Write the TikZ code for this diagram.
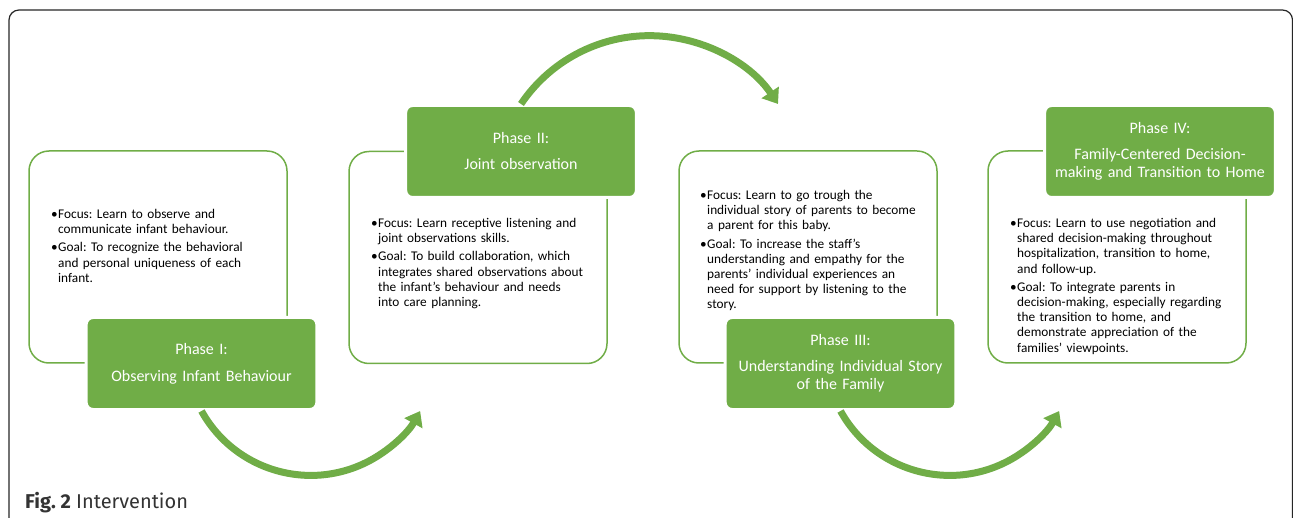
\documentclass[tikz,border=0pt]{standalone}
\usepackage{fontspec}
\setmainfont{Carlito}
\newfontfamily\capfont{Fira Sans}
\usetikzlibrary{arrows.meta}
\frenchspacing

\definecolor{phasegreen}{HTML}{70AD47}
\definecolor{capgray}{HTML}{333333}

% one bullet point with a hanging indent
\newcommand{\bul}[1]{\hangindent=7pt\hangafter=1\noindent\makebox[7pt][l]{\textbullet}#1\par}

\tikzset{
  outline/.style={draw=phasegreen, line width=1.5pt, rounded corners=20pt,
    minimum width=258pt, minimum height=212pt},
  phasebox/.style={fill=phasegreen, draw=white, line width=3pt, rounded corners=7pt,
    minimum width=230pt, minimum height=92pt, text width=224pt, align=center,
    text=white, font=\fontsize{16}{18}\selectfont},
  notes/.style={anchor=north west, inner sep=0pt, text width=250pt, align=left,
    font=\fontsize{13.3}{15.2}\selectfont},
  cycle arrow/.style={draw=phasegreen, line width=7pt,
    -{Triangle[width=20pt,length=14pt]}}
}

\begin{document}
\begin{tikzpicture}[x=1pt,y=1pt]
\useasboundingbox (0,0) rectangle (1293,-518);
\clip (0,0) rectangle (1293,-518);

% frame
\draw[black!85, line width=1.2pt, rounded corners=10pt] (9,-10) rectangle (1292.5,-560);

% outline boxes
\node[outline] (box1) at (158,-257) {};
\node[outline] (box2) at (478,-257.5) {};
\node[outline] (box3) at (808,-257) {};
\node[outline] (box4) at (1117,-257) {};

% texts
\node[notes] (txt1) at (51,-209) {%
  \bul{Focus: Learn to observe and\newline communicate infant behaviour.}\vspace{3pt}
  \bul{Goal: To recognize the behavioral\newline and personal uniqueness of each\newline infant.}};
\node[notes] (txt2) at (371,-218) {%
  \bul{Focus: Learn receptive listening and\newline joint observations skills.}\vspace{3pt}
  \bul{Goal: To build collaboration, which\newline integrates shared observations about\newline the infant’s behaviour and needs\newline into care planning.}};
\node[notes] (txt3) at (700,-190) {%
  \bul{Focus: Learn to go trough the\newline individual story of parents to become\newline a parent for this baby.}\vspace{3pt}
  \bul{Goal: To increase the staff’s\newline understanding and empathy for the\newline parents’ individual experiences an\newline need for support by listening to the\newline story.}};
\node[notes] (txt4) at (1010,-218) {%
  \bul{Focus: Learn to use negotiation and\newline shared decision-making throughout\newline hospitalization, transition to home,\newline and follow-up.}\vspace{3pt}
  \bul{Goal: To integrate parents in\newline decision-making, especially regarding\newline the transition to home, and\newline demonstrate appreciation of the\newline families’ viewpoints.}};

% phase titles
\node[phasebox] (ph1) at (201.5,-363.5) {Phase I:\\[9pt]Observing Infant Behaviour};
\node[phasebox] (ph2) at (521,-151.5) {Phase II:\\[8pt]Joint observation};
\node[phasebox] (ph3) at (840.5,-363.5) {Phase III:\\[8pt]Understanding Individual Story\\of the Family};
\node[phasebox] (ph4) at (1160,-151.5) {Phase IV:\\[8pt]Family-Centered Decision-\\making and Transition to Home};

% arrows between the phases
\draw[cycle arrow] (ph1.south) arc[start angle=209, end angle=331, radius=125];
\draw[cycle arrow] (ph2.north) arc[start angle=146, end angle=34, radius=155];
\draw[cycle arrow] (ph3.south) arc[start angle=209, end angle=331, radius=125];

% caption
\node[anchor=base west, inner sep=0pt, text=capgray] (cap) at (25,-508)
  {\capfont\fontsize{20}{24}\selectfont\textbf{Fig. 2} Intervention};
\end{tikzpicture}
\end{document}
